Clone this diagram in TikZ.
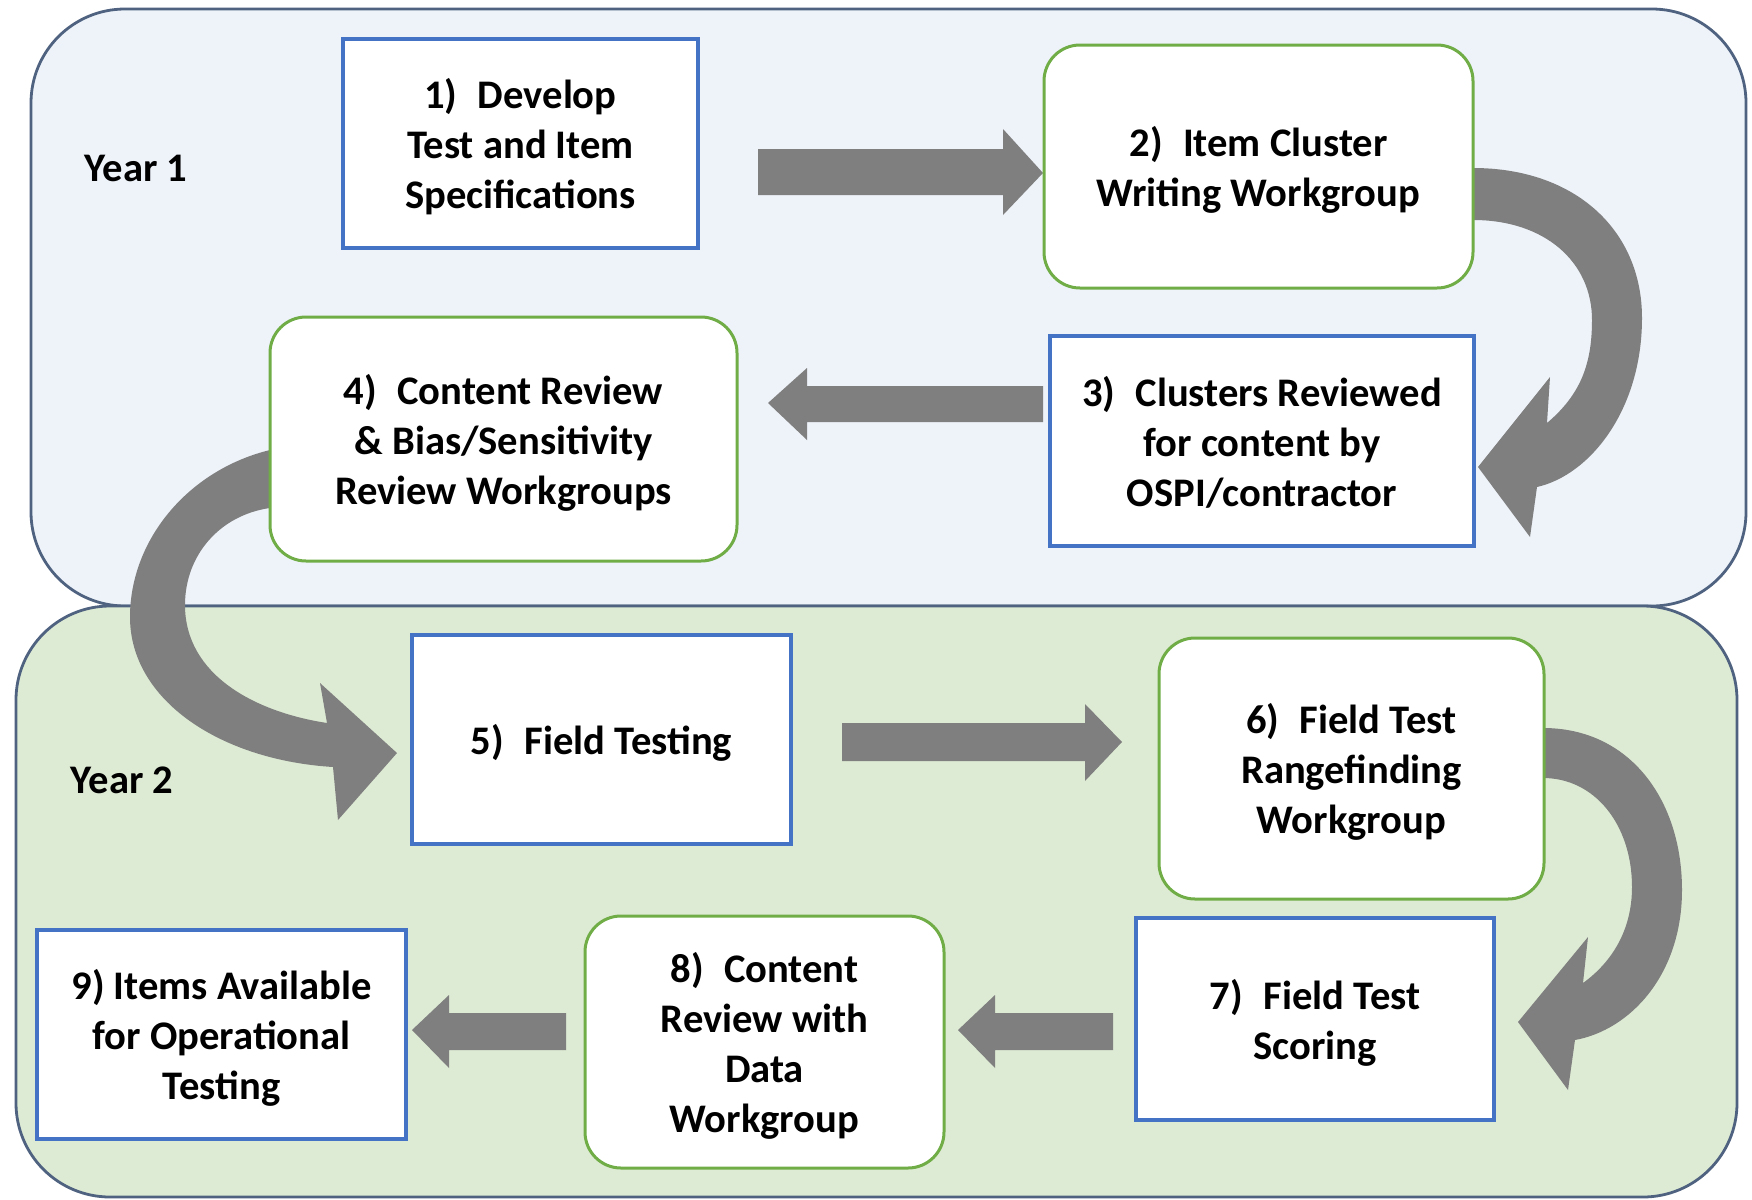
\documentclass[tikz,border=0pt]{standalone}
\usepackage{fontspec}
\setmainfont{Carlito}
\definecolor{pAfill}{HTML}{EEF3FA}
\definecolor{pBfill}{HTML}{DEEBD4}
\definecolor{pborder}{HTML}{4F6380}
\definecolor{bblue}{HTML}{4472C4}
\definecolor{bgreen}{HTML}{70AD47}
\definecolor{agray}{HTML}{7F7F7F}
\tikzset{
  boxtext/.style={align=center, font=\fontsize{20.3}{25}\selectfont\bfseries, text=black, inner sep=0pt, text depth=0pt},
  bluebox/.style={boxtext, draw=bblue, fill=white, line width=1.6pt, rectangle},
  greenbox/.style={boxtext, draw=bgreen, fill=white, line width=1.5pt, rectangle, rounded corners=18pt},
  panel/.style={draw=pborder, line width=1.4pt, rounded corners=47pt},
  yearlabel/.style={font=\fontsize{20.3}{25}\selectfont\bfseries, inner sep=0pt},
  blockarrow/.style={fill=agray},
}
\begin{document}
\begin{tikzpicture}[x=0.5pt, y=-0.5pt]
\fill[white] (0,0) rectangle (1752,1200);
\useasboundingbox (0,0) rectangle (1752,1200);
% panels
\draw[panel, fill=pAfill] (31,9) rectangle (1746,606);
\draw[panel, fill=pBfill] (16,606) rectangle (1737,1197);
\node[yearlabel] (y1) at (136,168) {Year 1};
\node[yearlabel] (y2) at (122,780) {Year 2};
% curved arrows
\fill[blockarrow] (1465,168) -- (1473,168) .. controls (1575,168) and (1642,230) .. (1642,318)
  .. controls (1642,410) and (1590,475) .. (1537,487) -- (1530,537) -- (1478,467) -- (1550,377) -- (1547,423)
  .. controls (1580,395) and (1592,365) .. (1592,320) .. controls (1592,262) and (1545,220) .. (1473,220) -- (1465,220) -- cycle;
\fill[blockarrow] (1535,728) -- (1543,728) .. controls (1630,728) and (1682,800) .. (1682,890)
  .. controls (1682,975) and (1630,1030) .. (1575,1040) -- (1568,1090) -- (1518,1022) -- (1588,937) -- (1583,983)
  .. controls (1612,962) and (1632,930) .. (1632,887) .. controls (1632,825) and (1595,778) .. (1543,778) -- (1535,778) -- cycle;
\fill[blockarrow] (278,450) -- (270,450) .. controls (188,470) and (130,540) .. (130,617)
  .. controls (130,700) and (220,760) .. (333,767) -- (338,820) -- (397,753) -- (320,683) -- (327,723)
  .. controls (255,712) and (185,675) .. (185,605) .. controls (185,555) and (220,515) .. (270,508) -- (278,508) -- cycle;
% straight arrows
\fill[blockarrow] (758,149) -- (1003,149) -- (1003,129) -- (1043,173) -- (1003,215) -- (1003,195) -- (758,195) -- cycle;
\fill[blockarrow] (1043,386) -- (807,386) -- (807,368) -- (768,403) -- (807,440) -- (807,422) -- (1043,422) -- cycle;
\fill[blockarrow] (842,723) -- (1085,723) -- (1085,704) -- (1122,742) -- (1085,781) -- (1085,761) -- (842,761) -- cycle;
\fill[blockarrow] (1113,1013) -- (995,1013) -- (995,995) -- (958,1030) -- (995,1068) -- (995,1050) -- (1113,1050) -- cycle;
\fill[blockarrow] (566,1013) -- (449,1013) -- (449,995) -- (412,1030) -- (449,1068) -- (449,1050) -- (566,1050) -- cycle;
% boxes
\node[bluebox, minimum width=177.5pt, minimum height=104.5pt] (b1) at (520.5,143.5) {1)\enspace Develop\\Test and Item\\Specifications};
\node[greenbox, minimum width=214.5pt, minimum height=121.5pt] (b2) at (1258.5,166.5) {2)\enspace Item Cluster\\Writing Workgroup};
\node[bluebox, minimum width=212pt, minimum height=105pt] (b3) at (1262,441) {3)\enspace Clusters Reviewed\\for content by\\OSPI/contractor};
\node[greenbox, minimum width=233.5pt, minimum height=122pt] (b4) at (503.5,439) {4)\enspace Content Review\\\&\ Bias/Sensitivity\\Review Workgroups};
\node[bluebox, minimum width=189.5pt, minimum height=104.5pt] (b5) at (601.5,739.5) {5)\enspace Field Testing};
\node[greenbox, minimum width=192.5pt, minimum height=130.5pt] (b6) at (1351.5,768.5) {6)\enspace Field Test\\Rangefinding\\Workgroup};
\node[bluebox, minimum width=179pt, minimum height=101pt] (b7) at (1315,1019) {7)\enspace Field Test\\Scoring};
\node[greenbox, minimum width=179.5pt, minimum height=126pt] (b8) at (764.5,1042) {8)\enspace Content\\Review with\\Data\\Workgroup};
\node[bluebox, minimum width=184.5pt, minimum height=104.5pt] (b9) at (221.5,1034.5) {9) Items Available\\for Operational\\Testing};
\end{tikzpicture}
\end{document}
